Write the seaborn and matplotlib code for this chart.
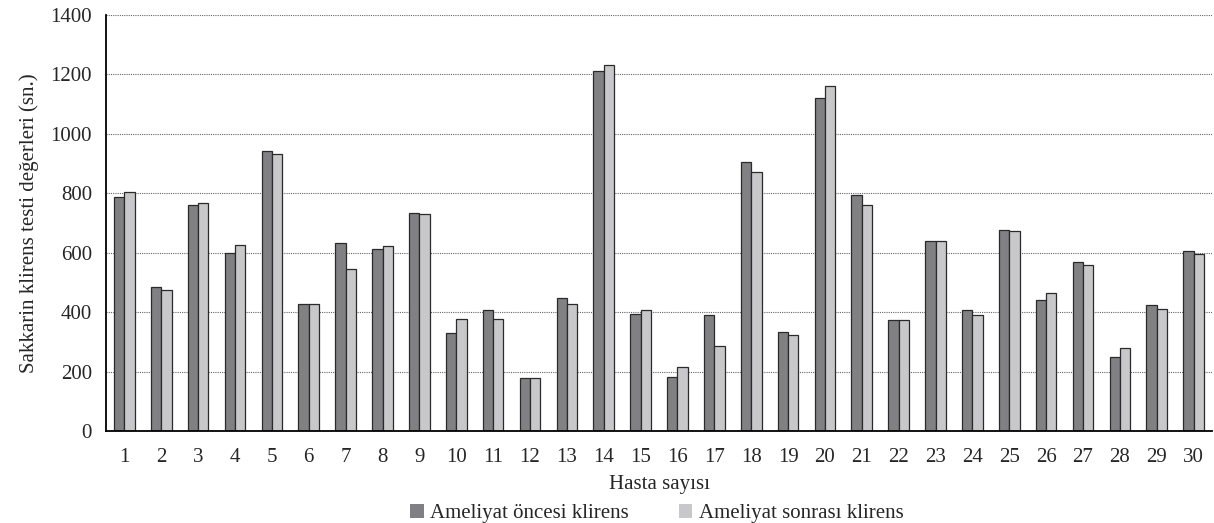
import numpy as np
import pandas as pd
import seaborn as sns
import matplotlib.pyplot as plt
from matplotlib.patches import Patch

# Veriler
hastalar = [str(i) for i in range(1, 31)]
oncesi = [788, 486, 760, 600, 942, 427, 633, 614, 735, 331,
          408, 177, 447, 1213, 393, 183, 391, 906, 332, 1122,
          795, 375, 638, 406, 677, 442, 570, 250, 423, 605]
sonrasi = [806, 473, 769, 625, 931, 427, 546, 623, 730, 377,
           377, 177, 427, 1231, 408, 214, 287, 870, 322, 1160,
           762, 374, 638, 392, 673, 464, 558, 281, 410, 595]
seriler = ["Ameliyat öncesi klirens", "Ameliyat sonrası klirens"]
renkler = ["#808084", "#c8c8ca"]

df = pd.DataFrame({
    "Hasta": hastalar * 2,
    "Deger": oncesi + sonrasi,
    "Seri": [seriler[0]] * 30 + [seriler[1]] * 30,
})

sns.set_style("white")
plt.rcParams["font.family"] = ["Liberation Serif", "DejaVu Serif"]
fs = 15

fig = plt.figure(figsize=(12.14, 5.23), dpi=100)
ax = fig.add_axes([0.0873, 0.1759, 0.9111, 0.7954])

sns.barplot(data=df, x="Hasta", y="Deger", hue="Seri", order=hastalar,
            hue_order=seriler, palette=renkler, width=0.56, gap=0,
            edgecolor="#2a2a2a", linewidth=0.9, ax=ax, legend=False)

ax.set_ylim(0, 1400)
ax.set_xlim(-0.5, 29.5)
ax.set_yticks(range(0, 1401, 200))
ax.yaxis.grid(True, linestyle=(0, (1, 1)), color="#666666", linewidth=0.8)
ax.set_axisbelow(True)

# grup sınırlarında işaretler, etiketler ortada
ax.set_xticks(np.arange(-0.5, 30, 1))
ax.set_xticklabels([])
ax.set_xticks(range(30), minor=True)
ax.set_xticklabels(hastalar, minor=True, fontsize=fs)
ax.tick_params(axis="x", which="major", length=7, width=1.2, color="black", direction="out")
ax.tick_params(axis="x", which="minor", length=0, pad=12)
ax.tick_params(axis="y", length=7, width=1.2, color="black", direction="out", labelsize=fs, pad=3)

for s in ["top", "right"]:
    ax.spines[s].set_visible(False)
for s in ["left", "bottom"]:
    ax.spines[s].set_color("black")
    ax.spines[s].set_linewidth(1.3)

ax.set_xlabel("Hasta sayısı", fontsize=fs, labelpad=6)
ax.set_ylabel("Sakkarin klirens testi değerleri (sn.)", fontsize=fs, labelpad=8)

handles = [Patch(facecolor=c, edgecolor="none") for c in renkler]
fig.legend(handles, seriler, loc="center", bbox_to_anchor=(0.541, 0.018), ncol=2,
           frameon=False, fontsize=fs, handlelength=0.65, handleheight=0.65,
           handletextpad=0.3, columnspacing=2.4, borderpad=0.1)

fig.savefig("out.png", dpi=100)
